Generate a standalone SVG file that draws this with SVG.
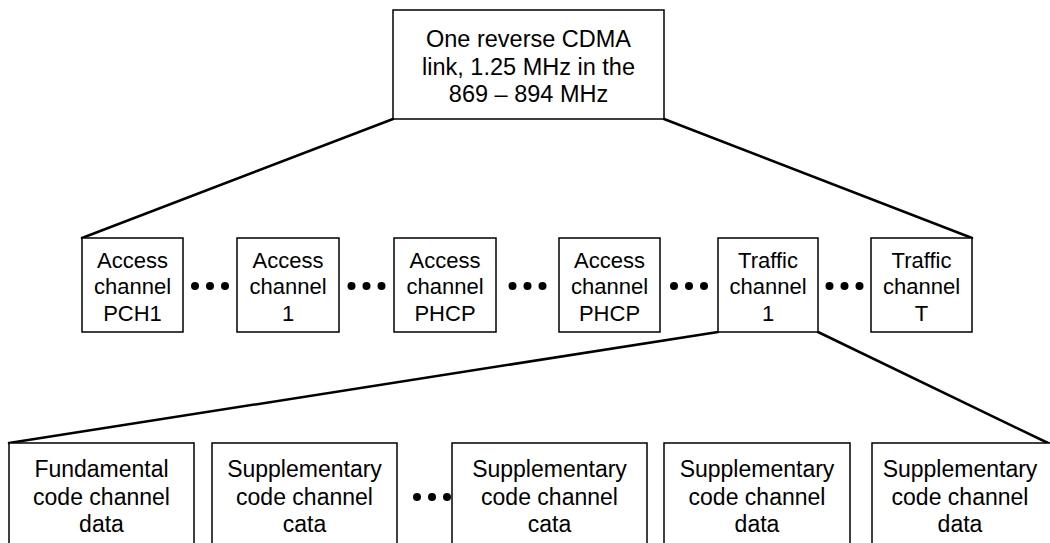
<svg xmlns="http://www.w3.org/2000/svg" width="1050" height="543" viewBox="0 0 1050 543">
<style>
.box{fill:#fff;stroke:#000;stroke-width:1.5}
.t{font-family:"Liberation Sans",Arial,sans-serif;font-size:22px;fill:#000;text-anchor:middle}
.tt{font-size:23.5px}
.tb{font-size:23px}
.c{stroke:#000;stroke-width:2.5;fill:none;stroke-linecap:round}
.d{fill:#000}
</style>
<rect width="1050" height="543" fill="#fff"/>
<g id="connectors">
<line class="c" x1="393" y1="119" x2="82" y2="238"/>
<line class="c" x1="664" y1="119" x2="972" y2="238"/>
<line class="c" x1="718" y1="332" x2="9" y2="443"/>
<line class="c" x1="818" y1="332" x2="1048" y2="443"/>
</g>
<g id="root">
<rect class="box" x="393" y="10" width="271" height="109"/>
<text class="t tt" x="528.5" y="47">One reverse CDMA</text>
<text class="t tt" x="528.5" y="75">link, 1.25 MHz in the</text>
<text class="t tt" x="528.5" y="102">869 – 894 MHz</text>
</g>
<g id="access-pch1">
<rect class="box" x="82" y="238" width="101" height="94"/>
<text class="t" x="132.5" y="268">Access</text><text class="t" x="132.5" y="294">channel</text><text class="t" x="132.5" y="321">PCH1</text>
</g>
<g id="access-1">
<rect class="box" x="237" y="238" width="102" height="94"/>
<text class="t" x="288" y="268">Access</text><text class="t" x="288" y="294">channel</text><text class="t" x="288" y="321">1</text>
</g>
<g id="access-phcp-a">
<rect class="box" x="394" y="238" width="102" height="94"/>
<text class="t" x="445" y="268">Access</text><text class="t" x="445" y="294">channel</text><text class="t" x="445" y="321">PHCP</text>
</g>
<g id="access-phcp-b">
<rect class="box" x="559" y="238" width="101" height="94"/>
<text class="t" x="609.5" y="268">Access</text><text class="t" x="609.5" y="294">channel</text><text class="t" x="609.5" y="321">PHCP</text>
</g>
<g id="traffic-1">
<rect class="box" x="718" y="238" width="100" height="94"/>
<text class="t" x="768" y="268">Traffic</text><text class="t" x="768" y="294">channel</text><text class="t" x="768" y="321">1</text>
</g>
<g id="traffic-t">
<rect class="box" x="871" y="238" width="101" height="94"/>
<text class="t" x="921.5" y="268">Traffic</text><text class="t" x="921.5" y="294">channel</text><text class="t" x="921.5" y="321">T</text>
</g>
<g id="dots-middle">
<circle class="d" cx="195" cy="286" r="4"/><circle class="d" cx="210" cy="286" r="4"/><circle class="d" cx="225" cy="286" r="4"/>
<circle class="d" cx="351.5" cy="286" r="4"/><circle class="d" cx="366.5" cy="286" r="4"/><circle class="d" cx="381.5" cy="286" r="4"/>
<circle class="d" cx="512.5" cy="286" r="4"/><circle class="d" cx="527.5" cy="286" r="4"/><circle class="d" cx="542.5" cy="286" r="4"/>
<circle class="d" cx="674" cy="286" r="4"/><circle class="d" cx="689" cy="286" r="4"/><circle class="d" cx="704" cy="286" r="4"/>
<circle class="d" cx="829.5" cy="286" r="4"/><circle class="d" cx="844.5" cy="286" r="4"/><circle class="d" cx="859.5" cy="286" r="4"/>
</g>
<g id="fundamental">
<rect class="box" x="9" y="443" width="185" height="110"/>
<text class="t tb" x="101.5" y="477">Fundamental</text><text class="t tb" x="101.5" y="505">code channel</text><text class="t tb" x="101.5" y="532">data</text>
</g>
<g id="supp-1">
<rect class="box" x="212" y="443" width="185" height="110"/>
<text class="t tb" x="304.5" y="477">Supplementary</text><text class="t tb" x="304.5" y="505">code channel</text><text class="t tb" x="304.5" y="532">cata</text>
</g>
<g id="supp-2">
<rect class="box" x="452" y="443" width="195" height="110"/>
<text class="t tb" x="549.5" y="477">Supplementary</text><text class="t tb" x="549.5" y="505">code channel</text><text class="t tb" x="549.5" y="532">cata</text>
</g>
<g id="supp-3">
<rect class="box" x="664" y="443" width="186" height="110"/>
<text class="t tb" x="757" y="477">Supplementary</text><text class="t tb" x="757" y="505">code channel</text><text class="t tb" x="757" y="532">data</text>
</g>
<g id="supp-4">
<rect class="box" x="872" y="443" width="190" height="110"/>
<text class="t tb" x="960" y="477">Supplementary</text><text class="t tb" x="960" y="505">code channel</text><text class="t tb" x="960" y="532">data</text>
</g>
<g id="dots-bottom">
<circle class="d" cx="417" cy="497" r="4"/><circle class="d" cx="432" cy="497" r="4"/><circle class="d" cx="447" cy="497" r="4"/>
</g>
</svg>
